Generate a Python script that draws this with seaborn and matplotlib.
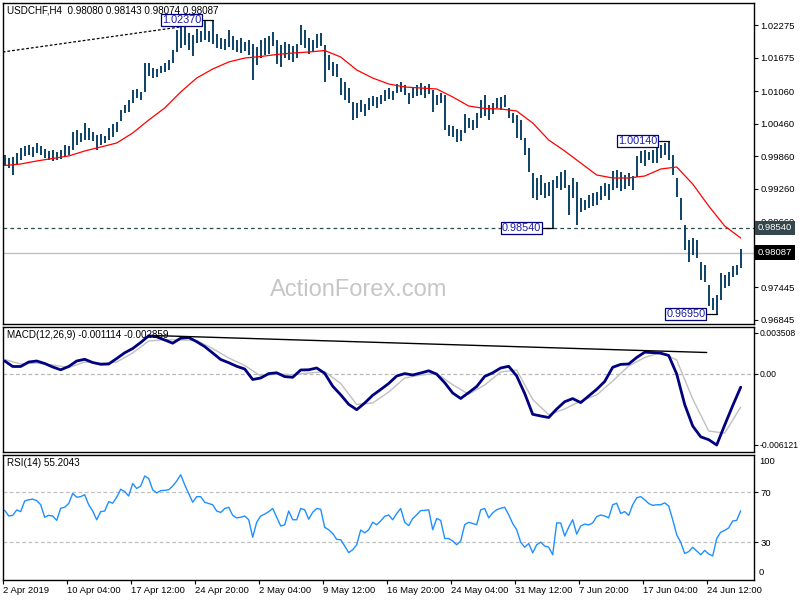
import numpy as np
import matplotlib
matplotlib.use("Agg")
import matplotlib.pyplot as plt
import matplotlib.transforms as mtransforms
import seaborn as sns

# ---------------- data ----------------
title_text = "USDCHF,H4  0.98080 0.98143 0.98074 0.98087"
macd_text = "MACD(12,26,9) -0.001114 -0.002859"
rsi_text = "RSI(14) 55.2043"

date_labels = ["2 Apr 2019", "10 Apr 04:00", "17 Apr 12:00", "24 Apr 20:00",
               "2 May 04:00", "9 May 12:00", "16 May 20:00", "24 May 04:00",
               "31 May 12:00", "7 Jun 20:00", "17 Jun 04:00", "24 Jun 12:00"]
date_tick_bars = [0, 32, 64, 96, 128, 160, 192, 224, 256, 288, 320, 352]  # H4 bar index

# one entry per 8 hours (two H4 bars)
highs = [
    0.99882, 0.99827, 0.99845, 0.99919, 1.00011, 1.00048, 1.00066, 1.00029, 1.00103, 1.00048,
    0.99992, 0.99956, 0.99974, 0.99937, 0.99974, 1.00066, 1.00048, 1.00305, 1.00342, 1.00287,
    1.00471, 1.00379, 1.00305, 1.00250, 1.00268, 1.00232, 1.00379, 1.00452, 1.00489, 1.00710,
    1.00802, 1.00894, 1.01079, 1.01097, 1.01042, 1.01575, 1.01575, 1.01483, 1.01465, 1.01520,
    1.01575, 1.01631, 1.01815, 1.02183, 1.02312, 1.02275, 1.02128, 1.02091, 1.02201, 1.02164,
    1.02348, 1.02164, 1.02370, 1.02109, 1.02036, 1.02017, 1.02183, 1.02072, 1.01999, 1.02036,
    1.01962, 1.01999, 1.01925, 1.01870, 1.01999, 1.02036, 1.02072, 1.02146, 1.01999, 1.01907,
    1.01962, 1.01925, 1.01888, 1.01925, 1.02275, 1.02183, 1.02036, 1.01999, 1.02109, 1.02128,
    1.01907, 1.01723, 1.01594, 1.01557, 1.01299, 1.01226, 1.01115, 1.00858, 1.00839, 1.00894,
    1.00821, 1.00931, 1.00968, 1.00950, 1.00987, 1.01079, 1.01115, 1.01060, 1.01189, 1.01226,
    1.01171, 1.01023, 1.01115, 1.01171, 1.01207, 1.01152, 1.01189, 1.01079, 1.00987, 1.01023,
    1.00987, 1.00434, 1.00416, 1.00360, 1.00342, 1.00636, 1.00563, 1.00526, 1.00655, 1.00894,
    1.00987, 1.00802, 1.00839, 1.00931, 1.00950, 1.00987, 1.00747, 1.00655, 1.00618, 1.00526,
    1.00195, 1.00011, 0.99551, 0.99459, 0.99514, 0.99367, 0.99385, 0.99422, 0.99495, 0.99569,
    0.99606, 0.99330, 0.99459, 0.99385, 0.99091, 0.99054, 0.99146, 0.99183, 0.99201, 0.99312,
    0.99367, 0.99348, 0.99587, 0.99606, 0.99569, 0.99514, 0.99551, 0.99495, 0.99864, 0.99956,
    0.99974, 0.99937, 0.99974, 1.00029, 1.00066, 1.00103, 1.00140, 0.99882, 0.99459, 0.99091,
    0.98594, 0.98318, 0.98354, 0.98318, 0.97912, 0.97857, 0.97489, 0.97250, 0.97305, 0.97710,
    0.97673, 0.97728, 0.97839, 0.97857, 0.98143]
lows = [
    0.99680, 0.99643, 0.99514, 0.99698, 0.99790, 0.99864, 0.99882, 0.99845, 0.99919, 0.99882,
    0.99827, 0.99790, 0.99772, 0.99790, 0.99808, 0.99845, 0.99882, 0.99974, 1.00066, 1.00121,
    1.00158, 1.00158, 1.00140, 0.99974, 1.00066, 1.00103, 1.00158, 1.00213, 1.00305, 1.00508,
    1.00655, 1.00673, 1.00839, 1.00931, 1.00894, 1.01042, 1.01336, 1.01299, 1.01318, 1.01391,
    1.01410, 1.01447, 1.01575, 1.01778, 1.01851, 1.01907, 1.01815, 1.01704, 1.01943, 1.01962,
    1.01999, 1.01962, 1.01925, 1.01851, 1.01833, 1.01815, 1.01870, 1.01815, 1.01778, 1.01759,
    1.01796, 1.01723, 1.01263, 1.01539, 1.01667, 1.01723, 1.01741, 1.01888, 1.01557, 1.01502,
    1.01667, 1.01631, 1.01594, 1.01667, 1.01907, 1.01851, 1.01741, 1.01778, 1.01851, 1.01888,
    1.01226, 1.01447, 1.01336, 1.01318, 1.00987, 1.00894, 1.00839, 1.00526, 1.00563, 1.00673,
    1.00600, 1.00710, 1.00784, 1.00747, 1.00821, 1.00876, 1.00913, 1.00894, 1.01023, 1.01042,
    1.00987, 1.00821, 1.00931, 1.00968, 1.00987, 1.00931, 1.01005, 1.00673, 1.00802, 1.00839,
    1.00342, 1.00232, 1.00213, 1.00121, 1.00140, 1.00287, 1.00379, 1.00342, 1.00379, 1.00563,
    1.00600, 1.00526, 1.00636, 1.00747, 1.00710, 1.00765, 1.00563, 1.00471, 1.00195, 1.00158,
    0.99882, 0.99569, 0.99091, 0.99054, 0.99146, 0.99091, 0.99128, 0.98540, 0.99275, 0.99238,
    0.99275, 0.98778, 0.99091, 0.98594, 0.98833, 0.98870, 0.98906, 0.98943, 0.98962, 0.99054,
    0.99128, 0.99054, 0.99238, 0.99275, 0.99220, 0.99256, 0.99312, 0.99238, 0.99477, 0.99735,
    0.99680, 0.99790, 0.99735, 0.99735, 0.99827, 0.99882, 0.99790, 0.99514, 0.99109, 0.98686,
    0.98133, 0.97912, 0.98041, 0.97986, 0.97581, 0.97544, 0.97102, 0.97029, 0.96950, 0.97213,
    0.97434, 0.97471, 0.97636, 0.97673, 0.97802]

# moving average, one value per 32 hours
ma_vals = [
    0.99689, 0.99716, 0.99772, 0.99818, 0.99864, 0.99956, 1.00029, 1.00103, 1.00287, 1.00526,
    1.00747, 1.01042, 1.01299, 1.01465, 1.01594, 1.01667, 1.01695, 1.01732, 1.01759, 1.01778,
    1.01805, 1.01686, 1.01447, 1.01299, 1.01189, 1.01134, 1.01115, 1.01097, 1.00950, 1.00784,
    1.00738, 1.00729, 1.00692, 1.00471, 1.00158, 0.99956, 0.99735, 0.99514, 0.99459, 0.99459,
    0.99495, 0.99624, 0.99661, 0.99348, 0.98943, 0.98575, 0.98354]

# MACD main line (x1e-3), one value per 16 hours
macd_main = [
    1.100, 0.628, 0.628, 1.014, 1.100, 0.886, 0.585, 0.344, 0.628, 1.100,
    1.247, 0.971, 0.817, 0.843, 1.315, 1.805, 2.175, 2.691, 3.267, 3.181,
    2.906, 2.631, 3.061, 3.121, 2.760, 2.338, 1.788, 1.229, 0.954, 0.645,
    0.413, -0.490, -0.361, 0.017, 0.086, -0.241, -0.301, 0.327, 0.344, 0.499,
    0.043, -1.066, -1.805, -2.622, -3.086, -2.510, -1.848, -1.350, -0.834, -0.189,
    0.017, -0.103, 0.069, 0.258, -0.034, -0.765, -1.651, -2.123, -1.616, -1.092,
    -0.224, 0.086, 0.499, 0.645, -0.189, -1.694, -3.482, -3.628, -3.757, -3.026,
    -2.399, -2.132, -2.476, -1.909, -1.333, -0.662, 0.559, 0.808, 0.843, 1.401,
    1.857, 1.823, 1.771, 1.573, -0.017, -2.639, -4.488, -5.416, -5.665, -6.121,
    -4.402, -2.742, -1.150]
# MACD signal line (x1e-3), one value per 32 hours
macd_signal = [
    1.229, 0.843, 0.928, 0.757, 0.542, 1.014, 0.903, 1.014, 1.788, 2.820,
    2.932, 2.906, 2.863, 2.175, 1.358, 0.714, -0.189, -0.017, -0.086, 0.069,
    0.181, -0.834, -2.639, -2.510, -1.565, -0.361, -0.103, 0.026, -0.937, -1.762,
    -0.963, 0.155, 0.327, -2.209, -3.516, -3.026, -2.338, -1.823, -0.619, 0.671,
    1.401, 1.831, 1.186, -2.166, -4.917, -5.100, -2.859]

# RSI(14), one value per 8 hours
rsi_vals = [
    55.5, 51, 51.5, 55.8, 54.5, 63, 64, 64.5, 63.3, 60,
    50, 51.5, 51, 47.5, 57.2, 58, 61, 69, 66, 66.5,
    68, 60, 55, 48, 54.5, 55, 62.5, 61.2, 66, 72.4,
    70.5, 67, 77, 73, 75, 83, 81, 72, 69.5, 71.3,
    71.5, 72, 75, 79, 84, 76, 69, 62, 66.5, 66.5,
    62, 61, 60, 55, 53.8, 57, 58, 51.5, 49.5, 50,
    51, 48, 34, 46, 51, 52.5, 54.5, 57, 50, 43,
    44, 55, 48, 48, 57, 56, 48.4, 54, 57, 56.4,
    42, 40, 37, 32.3, 32, 27, 21.7, 24, 28, 39.8,
    37.5, 40, 46, 44, 47, 50.8, 51.8, 48, 53, 57,
    46, 43.3, 49, 52, 55.3, 55.5, 56, 40, 49, 47.5,
    33, 33, 31, 28, 31, 44, 46, 45, 44, 56,
    57, 49.5, 53.5, 56, 57.2, 58, 52, 45, 40, 30,
    26, 29, 21.5, 28, 30, 27, 26, 20, 45.5, 45.4,
    35, 42, 48, 36.5, 43, 44.5, 43.8, 45.5, 50.5, 51.8,
    51, 49.5, 60, 61.2, 53, 54.5, 51.5, 60, 65.5, 66.5,
    64, 61, 59.5, 60, 60, 61.5, 59, 48, 36, 30,
    21, 22.5, 26, 23, 20, 23.5, 20.6, 19, 33, 38,
    39.5, 41.5, 47, 47.5, 55.2]

main_ticks = [1.02275, 1.01675, 1.01060, 1.00460, 0.99860, 0.99260, 0.98660, 0.97445, 0.96845]
macd_ticks = [0.003508, 0.0, -0.006121]
macd_tick_labels = ["0.003508", "0.00", "-0.006121"]
rsi_levels = [70, 30]

support_level = 0.98540
last_close = 0.98087
peak_labels = ["1.02370", "1.00140", "0.98540", "0.96950"]
peak_prices = [1.02370, 1.00140, 0.98540, 0.96950]
peak_bar_numbers = [52, 166, 137, 178]        # index into the bar lists

trend_main_bars = [0, 88.6]
trend_main_prices = [1.01778, 1.02238]
trend_macd_bars = [75, 352]
trend_macd_vals = [0.003293, 0.001831]

# ---------------- drawing ----------------
sns.set_theme(style="white")
plt.rcParams['font.family'] = ['Liberation Sans', 'DejaVu Sans']

BAR_COLOR = '#0d4266'
FS = 6.8

fig = plt.figure(figsize=(8, 6), dpi=100)
L = 2.7 / 800
W = 751.3 / 800
ax1 = fig.add_axes([L, 1 - 324 / 600, W, 321 / 600])
ax2 = fig.add_axes([L, 1 - 452 / 600, W, 125.5 / 600])
ax3 = fig.add_axes([L, 1 - 580 / 600, W, 125.5 / 600])
XMAX = 751.3 / 2

bar_idx = 1 + 2 * np.arange(len(highs))

# ---- main price panel
ax1.text(0.474, 0.106, "ActionForex.com", transform=ax1.transAxes, ha='center',
         va='center', fontsize=17, color='#c6c6c6', zorder=0.5)
ax1.axhline(last_close, color='#c0c0c0', lw=1.0, zorder=1)
ax1.axhline(support_level, color='#2f4f4f', lw=0.9, ls=(0, (3, 2.5)), zorder=1)
ax1.vlines(bar_idx, lows, highs, color=BAR_COLOR, linewidth=1.4, zorder=2)
sns.lineplot(x=bar_idx[::4], y=ma_vals, ax=ax1, color='#ff0000', linewidth=0.9, zorder=3)
ax1.plot(trend_main_bars, trend_main_prices, color='black', lw=0.9, ls=(0, (2.2, 1.6)), zorder=3)

for lab, pr, k in zip(peak_labels, peak_prices, peak_bar_numbers):
    bpk = bar_idx[k]
    bc = bpk - 15.5
    ax1.plot([bc + 10.75, bpk], [pr, pr], color='black', lw=0.9, zorder=4)
    ax1.text(bc, pr, lab, ha='center', va='center', fontsize=7.8, color='#1c1ca8',
             bbox=dict(boxstyle='square,pad=0.1', fc='white', ec='#000080', lw=0.9), zorder=5)

ax1.text(0.0057, 0.978, title_text, transform=ax1.transAxes, ha='left', va='center',
         fontsize=7.1, color='black')
ax1.set_ylim(0.96771, 1.02680)
ax1.yaxis.tick_right()
ax1.set_yticks(main_ticks)
ax1.set_yticklabels([f"{v:.5f}" for v in main_ticks])

trans1 = mtransforms.blended_transform_factory(ax1.transAxes, ax1.transData)
ax1.text(1 + 3.5 / 751.3, support_level, f"{support_level:.5f}", transform=trans1, ha='left',
         va='center', fontsize=FS, color='white', zorder=6, clip_on=False,
         bbox=dict(boxstyle='square,pad=0.3', fc='#34474c', ec='none'))
ax1.text(1 + 3.5 / 751.3, last_close, f"{last_close:.5f}", transform=trans1, ha='left',
         va='center', fontsize=FS, color='white', zorder=6, clip_on=False,
         bbox=dict(boxstyle='square,pad=0.3', fc='black', ec='none'))

# ---- MACD panel
ax2.axhline(0, color='#b8b8b8', lw=0.9, ls=(0, (3, 2)), zorder=1)
sns.lineplot(x=bar_idx[::4], y=np.array(macd_signal) * 1e-3, ax=ax2, color='#c0c0c0',
             linewidth=1.0, zorder=2)
sns.lineplot(x=bar_idx[::2], y=np.array(macd_main) * 1e-3, ax=ax2, color='#000080',
             linewidth=2.0, zorder=3)
ax2.plot(trend_macd_bars, trend_macd_vals, color='black', lw=1.0, zorder=4)
ax2.text(0.0057, 0.932, macd_text, transform=ax2.transAxes, ha='left', va='center',
         fontsize=7.1, color='black')
ax2.set_ylim(-0.006723, 0.004066)
ax2.yaxis.tick_right()
ax2.set_yticks(macd_ticks)
ax2.set_yticklabels(macd_tick_labels)

# ---- RSI panel
for lv in rsi_levels:
    ax3.axhline(lv, color='#c0c0c0', lw=0.9, ls=(0, (3, 2)), zorder=1)
sns.lineplot(x=bar_idx, y=rsi_vals, ax=ax3, color='#1e90ff', linewidth=1.0, zorder=2)
ax3.text(0.0057, 0.932, rsi_text, transform=ax3.transAxes, ha='left', va='center',
         fontsize=7.1, color='black')
ax3.set_ylim(-0.2, 100.2)
ax3.yaxis.tick_right()
ax3.set_yticks(rsi_levels)
ax3.set_yticklabels([str(v) for v in rsi_levels])
trans3 = mtransforms.blended_transform_factory(ax3.transAxes, ax3.transData)
ax3.text(1 + 5.0 / 751.3, 95, "100", transform=trans3, ha='left', va='center',
         fontsize=FS, color='black', clip_on=False)
ax3.text(1 + 5.0 / 751.3, 6, "0", transform=trans3, ha='left', va='center',
         fontsize=FS, color='black', clip_on=False)

ax3.set_xticks(date_tick_bars)
ax3.set_xticklabels(date_labels)
for t in ax3.get_xticklabels():
    t.set_ha('left')

for ax in (ax1, ax2, ax3):
    ax.set_xlim(0, XMAX)
    ax.set_xlabel('')
    ax.set_ylabel('')
    ax.set_facecolor('white')
    for s in ax.spines.values():
        s.set_color('black')
        s.set_linewidth(1.0)
    ax.tick_params(axis='y', which='both', right=True, left=False, direction='out',
                   length=3, width=0.8, pad=1.5, labelsize=FS, colors='black')
    ax.grid(False)
ax2.tick_params(axis='y', labelsize=6.2, pad=1.0)
for ax in (ax1, ax2):
    ax.set_xticks([])
ax3.tick_params(axis='x', bottom=True, direction='out', length=3, width=0.8, pad=1.5,
                labelsize=FS, colors='black')

fig.savefig('out.png', dpi=100, facecolor='white')
